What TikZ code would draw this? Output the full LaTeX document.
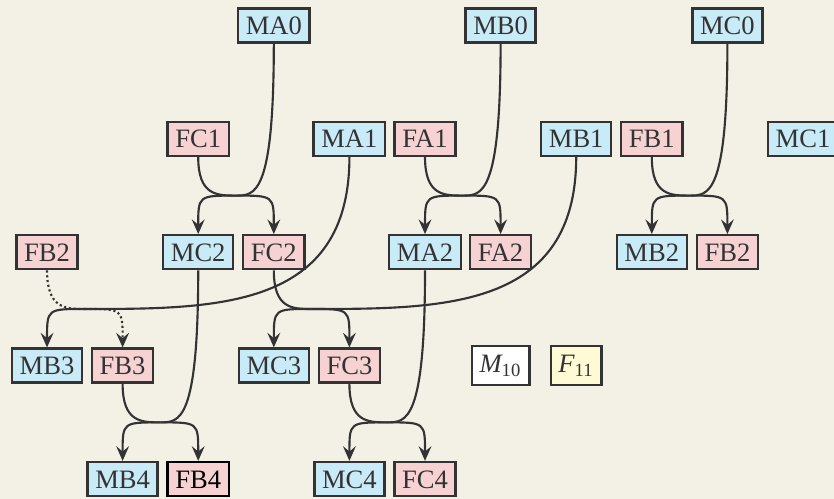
\documentclass[tikz,border=0pt]{standalone}
\usepackage{amsmath}
\usepackage{fontspec}
\setmainfont{Liberation Serif}
\usetikzlibrary{arrows.meta,calc}
\definecolor{bgpaper}{RGB}{243,240,230}
\definecolor{inkgray}{RGB}{51,51,51}
\definecolor{malefill}{RGB}{201,235,247}
\definecolor{femfill}{RGB}{246,210,210}
\definecolor{newfill}{RGB}{255,250,214}

\begin{document}
\begin{tikzpicture}[
  ind/.style={rectangle, draw=inkgray, line width=0.9pt, text=inkgray,
              inner xsep=2.9pt, inner ysep=3pt, font=\normalsize},
  male/.style={ind, fill=malefill, text height=6.8pt, text depth=0pt},
  fem/.style={ind, fill=femfill, text height=6.8pt, text depth=0pt},
  pedge/.style={draw=inkgray, line width=0.8pt,
                to path={.. controls (\tikztostart |- \tikztotarget)
                  and ($(\tikztostart |- \tikztotarget)!.5!(\tikztotarget)$)
                  .. (\tikztotarget) \tikztonodes}},
  kedge/.style={draw=inkgray, line width=0.8pt,
                -{Stealth[length=5.5pt,width=4.8pt,inset=2pt]},
                to path={.. controls (\tikztotarget |- \tikztostart)
                  and (\tikztotarget |- \tikztostart)
                  .. (\tikztotarget) \tikztonodes}},
  dots/.style={dash pattern=on 0.8pt off 1pt}
]
  \useasboundingbox[fill=bgpaper] (-0.622,0.337) rectangle (10.41,-6.263);

  \node[male] (MA0) at (3,0) {MA0};
  \node[male] (MB0) at (6,0) {MB0};
  \node[male] (MC0) at (9,0) {MC0};

  \node[fem]  (FC1) at (2,-1.5)  {FC1};
  \node[male] (MA1) at (4,-1.5)  {MA1};
  \node[fem]  (FA1) at (5,-1.5)  {FA1};
  \node[male] (MB1) at (7,-1.5)  {MB1};
  \node[fem]  (FB1) at (8,-1.5)  {FB1};
  \node[male] (MC1) at (10,-1.5) {MC1};

  \node[fem]  (FB2x) at (0,-3) {FB2};
  \node[male] (MC2)  at (2,-3) {MC2};
  \node[fem]  (FC2)  at (3,-3) {FC2};
  \node[male] (MA2)  at (5,-3) {MA2};
  \node[fem]  (FA2)  at (6,-3) {FA2};
  \node[male] (MB2)  at (8,-3) {MB2};
  \node[fem]  (FB2)  at (9,-3) {FB2};

  \node[male] (MB3) at (0,-4.5) {MB3};
  \node[fem]  (FB3) at (1,-4.5) {FB3};
  \node[male] (MC3) at (3,-4.5) {MC3};
  \node[fem]  (FC3) at (4,-4.5) {FC3};
  \node[ind, fill=white, text height=6.8pt, text depth=1.8pt]
       (M10) at (6,-4.5) {$\textit{M}_{\textrm{10}}$};
  \node[ind, fill=newfill, text height=6.8pt, text depth=1.8pt]
       (F11) at (7,-4.5) {$\textit{F}_{\textrm{11}}$};

  \node[male] (MB4) at (1,-6) {MB4};
  \node[fem, draw=black, text=black] (FB4) at (2,-6) {FB4};
  \node[male] (MC4) at (4,-6) {MC4};
  \node[fem]  (FC4) at (5,-6) {FC4};

  \coordinate (j1) at (2.5,-2.25);
  \coordinate (j2) at (5.5,-2.25);
  \coordinate (j3) at (8.5,-2.25);
  \coordinate (j4) at (0.5,-3.75);
  \coordinate (j5) at (3.5,-3.75);
  \coordinate (j6) at (1.5,-5.25);
  \coordinate (j7) at (4.5,-5.25);

  \draw[pedge] (MA0.south) to (j1);
  \draw[pedge] (FC1.south) to (j1);
  \draw[kedge] (j1) to (MC2.north);
  \draw[kedge] (j1) to (FC2.north);

  \draw[pedge] (MB0.south) to (j2);
  \draw[pedge] (FA1.south) to (j2);
  \draw[kedge] (j2) to (MA2.north);
  \draw[kedge] (j2) to (FA2.north);

  \draw[pedge] (MC0.south) to (j3);
  \draw[pedge] (FB1.south) to (j3);
  \draw[kedge] (j3) to (MB2.north);
  \draw[kedge] (j3) to (FB2.north);

  \draw[pedge] (MA1.south) to (j4);
  \draw[pedge, dots] (FB2x.south) to (j4);
  \draw[kedge] (j4) to (MB3.north);
  \draw[kedge, dots] (j4) to (FB3.north);

  \draw[pedge] (MB1.south) to (j5);
  \draw[pedge] (FC2.south) to (j5);
  \draw[kedge] (j5) to (MC3.north);
  \draw[kedge] (j5) to (FC3.north);

  \draw[pedge] (MC2.south) to (j6);
  \draw[pedge] (FB3.south) to (j6);
  \draw[kedge] (j6) to (MB4.north);
  \draw[kedge] (j6) to (FB4.north);

  \draw[pedge] (MA2.south) to (j7);
  \draw[pedge] (FC3.south) to (j7);
  \draw[kedge] (j7) to (MC4.north);
  \draw[kedge] (j7) to (FC4.north);
\end{tikzpicture}
\end{document}
